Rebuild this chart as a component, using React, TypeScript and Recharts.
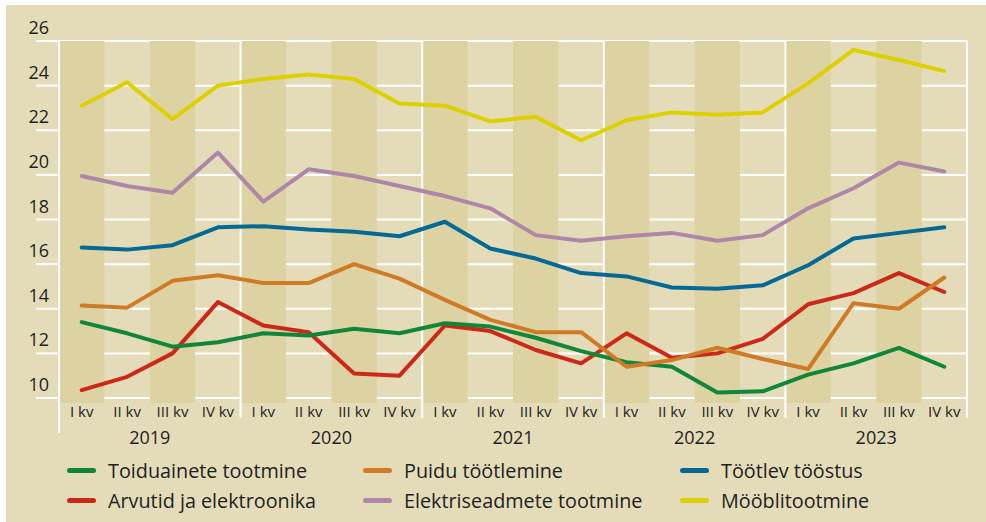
import {
  CartesianGrid,
  Line,
  LineChart,
  ReferenceArea,
  ReferenceLine,
  XAxis,
  YAxis,
} from "recharts";

const YEARS = ["2019", "2020", "2021", "2022", "2023"];
const QUARTERS = ["I kv", "II kv", "III kv", "IV kv"];
const Y_TICKS = [10, 12, 14, 16, 18, 20, 22, 24, 26];

const toiduained = [
  13.4, 12.9, 12.3, 12.5, 12.9, 12.8, 13.1, 12.9,
  13.35, 13.2, 12.7, 12.1, 11.6, 11.4, 10.25, 10.3,
  11.05, 11.55, 12.25, 11.4,
];
const puit = [
  14.15, 14.05, 15.25, 15.5, 15.15, 15.15, 16.0, 15.35,
  14.4, 13.5, 12.95, 12.95, 11.4, 11.7, 12.25, 11.75,
  11.3, 14.25, 14.0, 15.4,
];
const tootlev = [
  16.75, 16.65, 16.85, 17.65, 17.7, 17.55, 17.45, 17.25,
  17.9, 16.7, 16.25, 15.6, 15.45, 14.95, 14.9, 15.05,
  15.95, 17.15, 17.4, 17.65,
];
const arvutid = [
  10.35, 10.95, 12.0, 14.3, 13.25, 12.95, 11.1, 11.0,
  13.25, 13.0, 12.15, 11.55, 12.9, 11.8, 12.0, 12.65,
  14.2, 14.7, 15.6, 14.75,
];
const elekter = [
  19.95, 19.5, 19.2, 21.0, 18.8, 20.25, 19.95, 19.5,
  19.05, 18.5, 17.3, 17.05, 17.25, 17.4, 17.05, 17.3,
  18.5, 19.4, 20.55, 20.15,
];
const mooobel = [
  23.1, 24.15, 22.5, 24.0, 24.3, 24.5, 24.3, 23.2,
  23.1, 22.4, 22.6, 21.55, 22.45, 22.8, 22.7, 22.8,
  24.1, 25.6, 25.15, 24.65,
];

const SERIES = [
  { key: "toiduained", name: "Toiduainete tootmine", values: toiduained, color: "#10863a" },
  { key: "puit", name: "Puidu töötlemine", values: puit, color: "#cf7b25" },
  { key: "tootlev", name: "Töötlev tööstus", values: tootlev, color: "#046994" },
  { key: "arvutid", name: "Arvutid ja elektroonika", values: arvutid, color: "#cc2819" },
  { key: "elekter", name: "Elektriseadmete tootmine", values: elekter, color: "#ae87a8" },
  { key: "mooobel", name: "Mööblitootmine", values: mooobel, color: "#ddd000" },
];

// draw order (bottom to top)
const DRAW_ORDER = ["arvutid", "toiduained", "puit", "tootlev", "elekter", "mooobel"];

const rows = YEARS.flatMap((year, yi) =>
  QUARTERS.map((q, qi) => {
    const i = yi * 4 + qi;
    const row: Record<string, string | number> = { i, year, quarter: q };
    for (const s of SERIES) row[s.key] = s.values[i];
    return row;
  })
);

const W = 986;
const H = 522;
const PLOT_LEFT = 59;
const PLOT_RIGHT = 967;
const PLOT_TOP = 41;
const PLOT_BOTTOM = 398;
const BAND = (PLOT_RIGHT - PLOT_LEFT) / rows.length;
const BG = "#e4dcb9";
const BAND_BG = "#dcd2a2";
const TEXT = "#1e1e1e";
const FONT = "'Open Sans', 'Noto Sans', sans-serif";

function YTick({ y, payload }: any) {
  return (
    <g>
      <line x1={36} x2={PLOT_LEFT} y1={y} y2={y} stroke="#fff" strokeWidth={2} />
      <text x={49} y={y - 7} textAnchor="end" fontSize={18} fill={TEXT} fontFamily={FONT}>
        {payload.value}
      </text>
    </g>
  );
}

function XTick({ x, payload }: any) {
  const i = payload.value as number;
  const qi = i % 4;
  return (
    <g>
      {qi === 0 && (
        <line
          x1={x - BAND / 2}
          x2={x - BAND / 2}
          y1={PLOT_BOTTOM}
          y2={i === 0 ? 433 : 418}
          stroke="#fff"
          strokeWidth={2}
        />
      )}
      {i === rows.length - 1 && (
        <line x1={x + BAND / 2} x2={x + BAND / 2} y1={PLOT_BOTTOM} y2={418} stroke="#fff" strokeWidth={2} />
      )}
      <text x={x} y={417} textAnchor="middle" fontSize={15} fill={TEXT} fontFamily={FONT}>
        {QUARTERS[qi]}
      </text>
      {qi === 1 && (
        <text x={x + BAND / 2} y={444} textAnchor="middle" fontSize={18} fill={TEXT} fontFamily={FONT}>
          {YEARS[Math.floor(i / 4)]}
        </text>
      )}
    </g>
  );
}

const LEGEND_COLS = [67, 363, 680];
const LEGEND_ROWS = [470, 500];

export default function App() {
  return (
    <div style={{ position: "absolute", left: 0, top: 0, width: W, height: H, background: "#fff" }}>
      <div style={{ position: "absolute", left: 6, top: 5, right: 0, bottom: 0, background: BG }} />
      <div style={{ position: "absolute", left: 0, top: 0 }}>
        <LineChart
          width={W}
          height={H}
          data={rows}
          margin={{ top: PLOT_TOP, right: W - PLOT_RIGHT, left: 0, bottom: 0 }}
        >
          {rows.map((r) =>
            (r.i as number) % 2 === 0 ? (
              <ReferenceArea
                key={`band-${r.i}`}
                x1={(r.i as number) - 0.5}
                x2={(r.i as number) + 0.5}
                y1={9.78}
                y2={26}
                fill={BAND_BG}
                fillOpacity={1}
                stroke="none"
                ifOverflow="visible"
              />
            ) : null
          )}
          <CartesianGrid horizontal vertical={false} stroke="#fff" strokeWidth={2} strokeOpacity={1} />
          {YEARS.map((_, yi) => (
            <ReferenceLine key={`yl-${yi}`} x={yi * 4 - 0.5} stroke="#fff" strokeWidth={2} />
          ))}
          <ReferenceLine x={rows.length - 0.5} stroke="#fff" strokeWidth={2} />
          <XAxis
            type="number"
            dataKey="i"
            domain={[-0.5, rows.length - 0.5]}
            ticks={rows.map((r) => r.i as number)}
            interval={0}
            height={H - PLOT_BOTTOM}
            axisLine={false}
            tickLine={false}
            tick={<XTick />}
          />
          <YAxis
            type="number"
            domain={[10, 26]}
            ticks={Y_TICKS}
            interval={0}
            width={PLOT_LEFT}
            axisLine={false}
            tickLine={false}
            tick={<YTick />}
          />
          {DRAW_ORDER.map((k) => {
            const s = SERIES.find((x) => x.key === k)!;
            return (
              <Line
                key={s.key}
                type="linear"
                dataKey={s.key}
                name={s.name}
                stroke={s.color}
                strokeWidth={4}
                strokeLinecap="round"
                strokeLinejoin="round"
                dot={false}
                activeDot={false}
                isAnimationActive={false}
              />
            );
          })}
        </LineChart>
      </div>
      {SERIES.map((s, idx) => {
        const left = LEGEND_COLS[idx % 3];
        const cy = LEGEND_ROWS[Math.floor(idx / 3)];
        return (
          <div
            key={s.key}
            style={{
              position: "absolute",
              left,
              top: cy - 14,
              height: 28,
              display: "flex",
              alignItems: "center",
              fontFamily: FONT,
              fontSize: 19.8,
              color: TEXT,
              whiteSpace: "nowrap",
            }}
          >
            <span
              style={{
                display: "inline-block",
                width: 29,
                height: 5,
                borderRadius: 3,
                background: s.color,
                marginRight: 12,
              }}
            />
            {s.name}
          </div>
        );
      })}
    </div>
  );
}
